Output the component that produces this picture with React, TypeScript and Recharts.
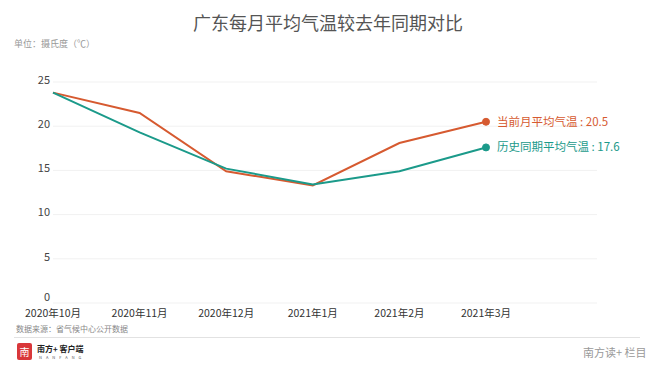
import React from 'react';
import { LineChart, Line, XAxis, YAxis, CartesianGrid } from 'recharts';

const categories = ['2020年10月', '2020年11月', '2020年12月', '2021年1月', '2021年2月', '2021年3月'];
const currentTemps = [23.8, 21.5, 14.9, 13.3, 18.1, 20.5];
const historyTemps = [23.8, 19.3, 15.2, 13.4, 14.9, 17.6];
const yTicks = [0, 5, 10, 15, 20, 25];
const seriesNames = ['当前月平均气温', '历史同期平均气温'];

const data = categories.map((c, i) => ({ month: c, current: currentTemps[i], history: historyTemps[i] }));

const FONT = '"Noto Sans CJK SC", "Noto Sans", sans-serif';
const ORANGE = '#d65a30';
const TEAL = '#1b9a8a';

const makeDot = (color: string, name: string, values: number[]) => (props: any) => {
  const { cx, cy, index } = props;
  if (index !== values.length - 1) return <g key={`e-${name}-${index}`} />;
  return (
    <g key={`d-${name}-${index}`}>
      <circle cx={cx} cy={cy} r={3.5} fill={color} stroke={color} />
      <text x={cx + 11} y={cy} dy="0.35em" fill={color} fontSize={11.5} fontFamily={FONT}>
        {`${name} : ${values[index]}`}
      </text>
    </g>
  );
};

const YTick = (props: any) => {
  const { x, y, payload } = props;
  const lift = payload.value === 0 ? 6 : 2;
  return (
    <text x={x} y={y - lift} dy="0.35em" textAnchor="end" fontSize={11} fill="#444" fontFamily={FONT}>
      {payload.value}
    </text>
  );
};

export default function App() {
  return (
    <div style={{ position: 'absolute', left: 0, top: 0, width: 656, height: 365, background: '#fff', fontFamily: FONT }}>
      <div style={{ position: 'absolute', left: 0, width: 656, top: 10, textAlign: 'center', fontSize: 18, color: '#555', lineHeight: '24px' }}>
        广东每月平均气温较去年同期对比
      </div>
      <div style={{ position: 'absolute', left: 14, top: 38, fontSize: 9, color: '#999', lineHeight: '12px' }}>
        单位：摄氏度（℃）
      </div>
      <LineChart width={656} height={365} data={data} margin={{ top: 82, right: 59, bottom: 32, left: 0 }}>
        <CartesianGrid horizontal vertical={false} stroke="#f1f1f1" />
        <XAxis
          dataKey="month"
          interval={0}
          axisLine={false}
          tickLine={false}
          tickSize={0}
          tickMargin={7}
          height={30}
          padding={{ left: 0, right: 111 }}
          tick={{ fontSize: 10.5, fill: '#333', fontFamily: FONT }}
        />
        <YAxis
          domain={[0, 25]}
          ticks={yTicks}
          width={53}
          axisLine={false}
          tickLine={false}
          tickSize={0}
          tickMargin={3}
          tick={<YTick />}
        />
        <Line
          type="linear"
          dataKey="current"
          stroke={ORANGE}
          strokeWidth={2}
          isAnimationActive={false}
          dot={makeDot(ORANGE, seriesNames[0], currentTemps)}
          activeDot={false}
        />
        <Line
          type="linear"
          dataKey="history"
          stroke={TEAL}
          strokeWidth={2}
          isAnimationActive={false}
          dot={makeDot(TEAL, seriesNames[1], historyTemps)}
          activeDot={false}
        />
      </LineChart>
      <div style={{ position: 'absolute', left: 16, top: 324, fontSize: 8, color: '#888', lineHeight: '10px' }}>
        数据来源：省气候中心公开数据
      </div>
      <div style={{ position: 'absolute', left: 14, top: 337, width: 626, height: 1, background: '#e2e2e2' }} />
      <div style={{ position: 'absolute', left: 17, top: 343, width: 15, height: 17, background: '#d9373a', borderRadius: 2, color: '#fff', fontSize: 10, lineHeight: '17px', textAlign: 'center' }}>
        南
      </div>
      <div style={{ position: 'absolute', left: 37, top: 344, fontSize: 8, color: '#222', fontWeight: 'bold', lineHeight: '10px' }}>
        南方+ 客户端
      </div>
      <div style={{ position: 'absolute', left: 39, top: 355, fontSize: 4, color: '#555', lineHeight: '5px', letterSpacing: 4 }}>
        NANFANG
      </div>
      <div style={{ position: 'absolute', left: 583, top: 345, fontSize: 11, color: '#999', lineHeight: '14px' }}>
        南方读+ 栏目
      </div>
    </div>
  );
}
